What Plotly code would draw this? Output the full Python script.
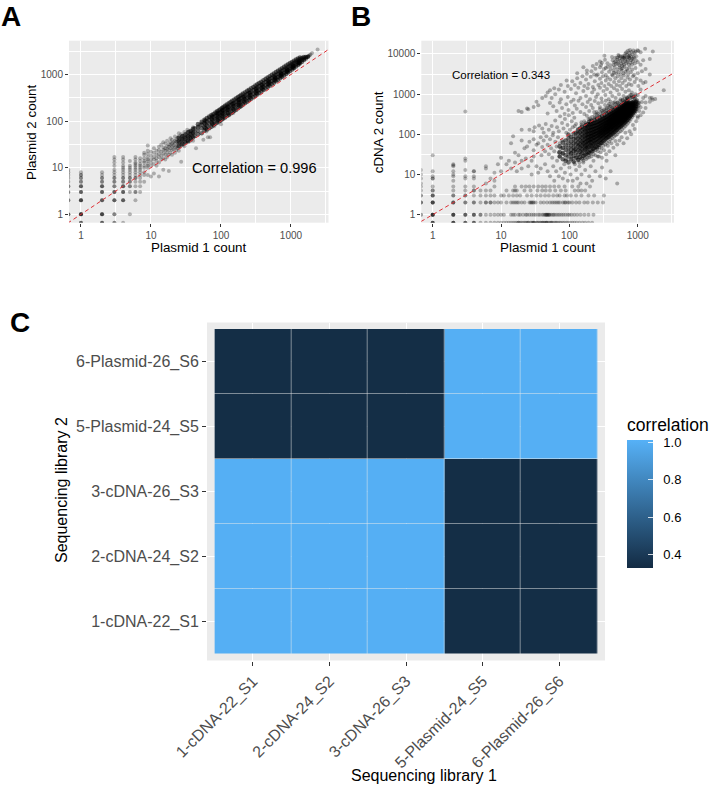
import plotly.graph_objects as go

# ---------- Panel A: counts ----------
a_low = [
 (0.66,[1,1,1,2,2,3,3,4,4,5,6,7,8,9]),
 (1,[0.66,0.66,0.66,1,1,1,1,1,2,2,2,2,3,3,3,4,4,4,5,5,6,6,7,7,8]),
 (2,[0.66,0.66,0.66,1,1,1,1,2,2,2,3,3,3,4,4,4,5,5,6,6,7,8]),
 (3,[0.66,0.66,1,1,2,2,2,3,3,3,4,4,5,5,6,6,7,8,9,11,13,15,17]),
 (4,[0.66,2,2,2,3,3,3,4,4,4,5,5,6,6,7,8,9,10,11,13,15,17]),
 (5,[1,3,4,4,5,5,6,6,7,8,9,10,11,14]),
 (6,[2,3,3,4,5,6,6,7,8,9,10,11,12,13,15,17]),
 (7,[3,4,5,6,7,8,9,10,11,12,14,16]),
 (8,[5,7,8,10,11,13,14,16,19,21]),
 (9,[7,10,11,12,14,15,17,20,23,30]),
]
a_mid = [
 (10,6.5),(10,11),(10,13),(10,15),(10,18),(10,22),(11,7.5),(11,12),(11,15),(11,17),(11,21),(11,26),
 (12,11),(12,14),(12,16),(12,19),(12,23),(13,6.5),(13,13),(13,17),(13,20),(13,24),(13,28),(14,15),(14,18),(14,22),(14,31),
 (15,9),(15,16),(15,20),(15,24),(15,27),(15,35),(16,15),(16,19),(16,23),(16,26),(16,33),(17,17),(17,21),(17,25),(17,29),(17,38),
 (18,8.5),(18,19),(18,24),(18,28),(18,32),(19,21),(19,26),(19,31),(19,36),(19,43),(20,19),(20,24),(20,29),(20,33),(20,40),
 (21,25),(21,30),(21,35),(22,21),(22,27),(22,33),(22,38),(22,47),(23,24),(23,29),(23,36),(23,41),(24,26),(24,31),(24,37),(24,44),
 (25,23),(25,33),(25,39),(25,47),(25,55),(26,28),(26,35),(26,41),(27,13.5),(27,31),(27,38),(27,45),(27,52),(28,33),(28,40),(28,48),
 (29,31),(29,37),(29,44),(30,29),(30,41),(30,49),(30,58),(31,36),(31,45),(32,34),(32,42),(32,51),(33,38),(33,47),(33,56),(33,65),
 (34,35),(34,44),(35,40),(35,49),(35,60),(36,37),(36,46),(36,53),(37,43),(37,58),(38,40),(38,50),(38,62),(39,47),(39,55),
 (40,38),(40,74),(44,26),(47,78),(50,84),(53,92),(56,40),(58,100),(60,110),(62,60),(65,45),(67,120),(70,45),(75,130),(80,78),(85,148),
 (100,86),(110,190),(130,132),(150,150),(120,210),
 (1700,2350),(1760,2420),(1800,2500),(1850,2580),(1900,2700),(2000,2900),(2400,3450),
]
a_core = [
 (25,[29,36,44]),(28,[32,40,48]),(31,[35,43,52]),(34,[38,47,58]),(37,[42,52,62]),(40,[45,56,68]),
 (42,[48,58,70]),(47,[52,62,74,86]),(53,[55,70,84,96]),(58,[62,74,90,106]),(63,[66,80,98,116]),(68,[70,88,106,125]),
 (73,[76,94,114,134]),(78,[82,100,122,142]),(83,[88,108,130,152]),(88,[92,114,138,162]),(93,[98,120,146,170]),
 (98,[102,128,154,180]),(103,[108,134,162,190]),(108,[114,142,170,200]),(114,[120,150,182,212]),(121,[128,160,192,226]),
 (129,[136,170,204,240]),(137,[146,180,218,255]),(145,[154,192,232,272]),(155,[166,204,248,290]),(165,[176,218,262,308]),
 (175,[188,230,280,328]),(185,[200,244,296,346]),(195,[212,258,312,365]),(207,[226,274,332,388]),(222,[244,294,356,416]),
 (237,[262,314,380,444]),(252,[280,336,404,472]),(270,[302,360,432,505]),(290,[326,386,466,540]),(310,[350,414,498,578]),
 (330,[374,442,530,615]),(352,[400,472,566,656]),(377,[430,506,606,700]),(405,[464,544,650,750]),(435,[500,586,698,805]),
 (465,[536,628,746,860]),(497,[576,672,798,920]),(532,[620,720,852,985]),(570,[666,772,912,1050]),(610,[716,826,975,1125]),
 (652,[768,886,1040,1200]),(697,[826,948,1112,1280]),(745,[888,1016,1190,1365]),(797,[956,1090,1272,1455]),
 (852,[1028,1168,1360,1550]),(910,[1105,1250,1450,1650]),(970,[1185,1340,1545,1750]),(1035,[1275,1440,1650,1860]),
 (1105,[1370,1545,1760,1970]),(1180,[1480,1660,1880,2080]),(1260,[1600,1790,2000,2200]),(1345,[1735,1920,2130,2300]),
 (1435,[1880,2060,2260]),(1530,[2040,2200,2380]),(1630,[2210,2380]),(1740,[2410]),
 (60,[70,84,100]),(75,[88,106,125]),(90,[106,126,150]),(105,[126,148,172]),(125,[150,176,200]),(150,[180,210,240]),
 (180,[218,252,285]),(215,[262,300,335]),(260,[320,364,405]),(320,[398,448,495]),(390,[490,545,600]),(480,[610,670,730]),
 (590,[755,820,885]),(720,[925,998,1070]),(880,[1140,1215,1295]),(1070,[1400,1480,1560]),(1300,[1720,1800,1880]),
]

# ---------- Panel B ----------
b_low = [
 (0.67,[1,1,2,2,2,3,3,4,5,6,8,10,13]),
 (1,[0.63,0.63,0.63,0.63,1,1,1,1,1,2,2,2,2,3,3,3,4,4,5,8,8,9,12,30]),
 (2,[0.63,0.63,0.63,0.63,1,1,1,1,2,2,2,3,3,4,5,7,9,10,12,16,17,18]),
 (3,[0.63,0.63,0.63,1,1,1,2,2,3,3,4,5,8,9,13,22,25,370]),
 (4,[0.63,0.63,0.63,1,1,1,2,2,3,4,4,5,8,9,12,12]),
 (5,[0.63,1,1,2,3,4]),(6,[0.63,1,2,2,3,4,6,14,16]),(7,[0.63,1,2,2,3,4,8]),
 (8,[0.63,1,2,3,5,7,11]),
]
b_row_0 = [9,10,11,12,13,14,15,16,17,18,18,19,20,21,22,23,24,25,25,27,28,29,30,30,31,33,34,35,37,38,40,40,42,43,45,46,46,48,50,52,54,55,57,60,63,65,68,72,75,80,84,90,95,102,110,118,128,140,155,170,190,215]
b_row_1 = [9,10,11,14,15,16,18,19,21,23,24,26,28,30,32,35,37,40,42,44,45,46,47,48,50,50,52,55,58,60,64,68,72,77,82,88,95,100,108,118,130,145,165,190,225]
b_row_2 = [9,10,12,14,15,16,17,18,20,22,26,27,28,29,30,32,38,42,47,52,56,60,64,68,72,80,85,88,95,100,110,125,140,165,185,220,260,310]
b_row_3 = [10,11,13,15,17,19,24,28,33,38,44,50,58,66,72,85,92,105,125,150,190,230,320]
b_row_4 = [12,15,16,17,22,27,34,40,45,52,62,75,88,120,135,150,170]
b_row_5 = [16,20,23,26,30,35,40,45,52,60,70,85,110,135,200]
b_upper = [
 (600,8200),(640,9000),(680,11000),(700,9500),(720,12000),(750,10500),(770,12500),(790,8800),(810,11200),(840,9800),(860,12200),(900,10500),(930,11500),(990,12400),(1020,11800),(1100,11000),(1280,13500),(1660,11500),(560,8600),(520,9400),(500,8100),(660,10200),(730,8600),(760,9100),(880,8400),(950,8800),
 (325,9000),(280,6500),(250,5600),(220,5000),(160,4700),(130,3300),(180,3900),(91,2200),(75,1700),(52,1250),(60,1400),(40,800),(24,440),(30,480),(33,650),(18,380),(20,360),
 (400,5200),(430,7000),(450,6100),(470,8000),(480,5600),(500,7200),(520,6400),(540,5200),(540,7800),(560,6800),(575,5800),(590,7300),(610,6200),(620,7900),(630,5400),(650,6700),(660,7500),(680,5900),(690,8200),(700,6400),(720,7100),(740,5500),(760,7700),(780,6000),(800,7000),(820,5400),(850,6500),(870,7800),(900,5800),(950,7000),(1000,6200),(1100,5400),(1200,7000),(1500,7500),(360,5900),(330,7200),(300,6000),(290,5300),(420,8400),(445,5300),(510,5700),(590,5100),(640,8300),(530,8900),(470,6500),(600,8800),(750,8200),(830,7600),
 (180,3200),(210,3700),(240,4300),(260,3100),(280,4700),(300,3500),(320,4200),(340,3000),(360,4800),(380,3600),(400,4300),(420,3100),(440,3900),(460,4700),(480,3300),(500,4100),(520,3500),(540,4600),(560,3100),(580,3800),(600,4400),(620,3300),(640,4900),(660,3600),(690,4200),(720,3100),(750,4600),(790,3500),(830,4100),(880,3000),(930,4500),(1000,3300),(1150,3700),(1300,4200),(1500,3100),(230,3100),(340,4500),(450,3400),(570,4200),(710,3800),
 (95,1600),(110,2100),(120,1700),(130,2500),(145,1900),(155,2800),(165,1600),(175,2300),(190,1800),(205,2700),(220,1500),(235,2100),(250,2900),(265,1700),(280,2400),(295,1900),(310,2800),(325,1600),(340,2200),(360,2600),(375,1800),(395,2300),(410,1600),(430,2900),(450,2000),(470,2500),(490,1700),(510,2800),(530,2100),(550,1600),(575,2500),(600,1900),(625,2900),(650,2200),(680,1600),(710,2600),(740,1800),(770,2300),(810,1700),(850,2800),(900,2000),(960,2400),(1020,1600),(1100,2200),(1200,1900),(1300,2000),
 (45,900),(48,1100),(55,800),(62,1000),(70,1300),(75,750),(85,1150),(95,850),(105,1350),(115,720),(125,1050),(135,1450),(145,800),(160,1200),(175,900),(185,1400),(200,750),(215,1100),(230,1300),(245,850),(260,1000),(280,1450),(295,780),(315,1200),(335,950),(355,1350),(375,750),(400,1100),(425,900),(450,1400),(475,800),(500,1250),(530,1000),(560,750),(590,1350),(620,900),(660,1150),(700,800),(740,1250),(780,950),(820,1100),(870,850),(920,1000),(1000,950),(1100,1300),(1200,800),(1300,900),(1500,800),(1650,720),(1800,760),(2400,1250),
]
b_middle = [
 (25,420),(35,530),(48,330),(52,600),(58,500),(65,380),(72,620),(78,450),(85,320),(90,560),(97,400),(105,650),(112,340),(120,520),(128,430),(136,680),(145,360),(155,560),(165,320),(175,480),(185,640),(195,380),(208,540),(220,450),(235,670),(250,360),(265,590),(280,470),(300,640),(320,420),(340,680),(370,520),(400,650),(440,600),
 (900,700),(1000,480),(1050,600),(1150,640),(1200,350),(1300,450),(1300,620),(1500,650),(1600,800),(1100,300),(1000,260),
 (20,130),(26,130),(30,120),(31,150),(36,165),(40,140),(42,110),(45,180),(50,130),(55,160),(58,110),(62,220),(66,150),(70,120),(73,280),(78,190),(82,140),(86,240),(90,110),(94,170),(98,300),(102,130),(108,210),(112,150),(118,260),(125,180),(132,120),
 (14,60),(15,90),(16,35),(18,30),(20,70),(22,45),(24,50),(26,65),(30,40),(30,75),(33,55),(35,60),(38,85),(40,48),(42,70),(44,38),(46,90),(48,55),(50,32),(52,75),(54,45),(57,95),(60,38),(62,65),(65,50),(68,85),(70,35),(72,60),(75,45),(78,70),(80,33),
 (9,18),(10,12),(10,26),(12,18),(13,22),(14,14),(16,20),(17,12),(20,22),(20,14),(23,25),(25,16),(28,22),(28,10),(30,28),(33,16),(35,11),(38,14),(39,30),(44,18),(48,12),(52,9),(56,26),(58,16),(60,7),(64,12),(66,22),(70,9),(72,28),(75,14),(80,8),(84,18),(86,11),(90,24),(95,7),(100,15),(104,10),(108,26),(112,7),(118,20),(125,13),(130,8),(136,24),(140,16),(145,6),(150,10),(160,20),(170,13),(178,6),(185,26),(195,9),(205,16),(215,7),(225,22),(240,12),(260,28),(280,9),(300,15),(340,8),(350,22),(400,12),(470,30),(500,6),
 (105,34),(118,42),(128,27),(135,55),(148,32),(158,62),(168,26),(176,48),(190,30),(198,70),(210,28),(225,38),(240,30),(255,44),(270,28),(285,36),(300,26),(320,40),(345,32),(365,52),(385,38),(410,60),(440,46),(470,68),(500,56),(540,70),(580,85),(620,60),(660,110),(700,80),(760,120),(800,100),(850,170),(900,135),(950,210),(1000,280),(1050,380),(1100,470),(950,640),(1000,600),
 (120,160),(150,200),(200,250),(250,310),(300,380),(350,450),(400,500),(500,620),(600,700),(700,780),(800,800),(180,290),(230,360),(280,420),(330,540),(380,580),(460,640),
 (150,175),(165,210),(172,190),(190,240),(205,225),(215,270),(235,300),(240,260),(260,330),(270,290),(285,350),(305,340),(320,390),(335,370),(355,440),(370,400),(390,480),(410,430),(425,530),(445,470),(470,570),(490,520),(510,620),(530,560),(555,680),(580,610),(600,720),(630,650),(650,780),(675,700),(700,840),(725,730),(750,890),(780,800),(810,950),(840,840),(870,900),(905,790),(930,880),(960,730),(980,690),
 (120,18),(140,20),(160,22),(175,24),(195,27),(205,33),(225,32),(240,40),(260,38),(275,46),(295,45),(315,52),(335,56),(355,62),(380,66),(400,75),(425,80),(450,88),(475,95),(500,100),(525,112),(560,120),(590,130),(625,145),(660,160),(690,175),(725,195),(760,215),(790,240),(830,270),(870,300),(910,340),(950,375),(985,430),
 (960,500),(990,560),(1010,620),(1030,520),
]
b_core = [
 (72,[28,36,50]),(80,[24,34,46,62]),(88,[22,30,41,53,70]),(97,[20,28,36,46,60,78,98]),
 (106,[24,33,41,52,66,86]),(115,[21,29,38,47,60,77,103]),(124,[26,35,43,55,68,85,108]),(134,[23,31,40,50,63,80,104,132]),
 (143,[27,37,46,57,71,88,111,140]),(152,[25,34,43,53,66,82,100,125,155]),(161,[29,39,49,60,73,91,113,138]),(170,[31,41,51,63,77,94,117,143,170]),
 (178,[33,44,55,66,80,96,115,140,168]),(186,[36,46,58,70,84,101,122,148,180]),(195,[35,48,60,72,86,100,120,145,175,205]),
 (204,[40,52,64,77,91,108,128,153,183]),(213,[38,50,62,75,90,105,125,150,180,218]),(222,[44,56,69,82,96,113,133,158,190]),(232,[45,58,71,84,98,115,135,160,192,232]),
 (243,[49,61,74,88,103,120,141,166,198]),(254,[48,63,77,91,106,123,144,170,203,248]),(265,[54,67,82,96,111,129,150,176,210]),(277,[55,70,86,100,115,133,154,182,214,265]),
 (288,[61,76,91,106,121,140,162,190,225]),(300,[62,79,95,110,126,146,168,196,233,285]),(312,[67,84,100,116,133,152,175,204,242]),(325,[71,90,106,122,140,160,185,215,255,305]),
 (338,[78,95,112,128,146,166,191,222,262]),(350,[80,98,115,132,150,172,198,230,270,335]),(363,[84,103,121,139,158,180,206,238,280]),(377,[87,106,125,145,165,188,215,248,292,355]),
 (390,[94,114,133,153,174,198,227,260,305]),(405,[96,117,137,157,180,204,235,268,315,380]),(420,[103,126,147,168,192,218,248,285,330]),(435,[106,130,152,174,198,225,256,294,340,405]),
 (450,[114,138,160,183,209,236,268,308,355]),(467,[118,143,166,190,217,245,278,318,367,435]),(484,[127,152,177,201,228,258,293,334,384]),(500,[132,158,183,208,236,266,302,345,396,465]),
 (518,[141,168,194,220,247,279,316,361,412]),(536,[148,176,202,229,257,291,328,375,428,495]),(555,[155,184,212,241,271,304,343,390,444]),(575,[162,193,222,252,283,318,358,407,462,535]),
 (595,[172,204,234,264,296,332,373,423,482]),(615,[182,215,245,276,309,347,390,441,502,575]),(637,[194,228,258,290,326,365,410,463,522]),(658,[204,240,270,304,342,383,428,484,545,618]),
 (680,[216,253,287,323,362,405,453,506,570]),(705,[228,266,302,340,381,427,478,534,600,675]),(730,[248,287,326,368,412,460,513,577]),(755,[263,304,345,390,436,487,542,608]),
 (780,[285,328,372,420,468,522,582]),(805,[303,349,395,446,497,552,618]),(835,[330,378,428,484,540,606]),(865,[354,404,455,516,577,646]),
 (900,[388,450,515,590]),(935,[424,495,566,646]),
]

# ---------- Panel C ----------
lib_x = ["1-cDNA-22_S1", "2-cDNA-24_S2", "3-cDNA-26_S3", "5-Plasmid-24_S5", "6-Plasmid-26_S6"]
lib_y = ["1-cDNA-22_S1", "2-cDNA-24_S2", "3-cDNA-26_S3", "5-Plasmid-24_S5", "6-Plasmid-26_S6"]
corr = [
 [1.0, 1.0, 1.0, 0.343, 0.343],
 [1.0, 1.0, 1.0, 0.343, 0.343],
 [1.0, 1.0, 1.0, 0.343, 0.343],
 [0.343, 0.343, 0.343, 1.0, 1.0],
 [0.343, 0.343, 0.343, 1.0, 1.0],
]
log_ticks_a = [1, 10, 100, 1000]
log_ticks_b = [1, 10, 100, 1000, 10000]
mid_ticks = [0.3162, 3.162, 31.62, 316.2, 3162]
diag = [0.3, 30000]

W, H = 710, 787
FONT = "Liberation Sans"

def expand(cols):
    xs, ys = [], []
    for x, vals in cols:
        for v in vals:
            xs.append(x); ys.append(v)
    return xs, ys

fig = go.Figure()
def scatter(xs, ys, xa, ya, size, op):
    fig.add_trace(go.Scatter(x=xs, y=ys, xaxis=xa, yaxis=ya, mode="markers", showlegend=False,
                             marker=dict(color="black", size=size, opacity=op, line=dict(width=0))))

scatter(*expand(a_low), "x", "y", 4.0, 0.27)
scatter([p[0] for p in a_mid], [p[1] for p in a_mid], "x", "y", 4.0, 0.27)
scatter(*expand(a_core), "x", "y", 4.6, 0.55)
fig.add_trace(go.Scatter(x=diag, y=diag, xaxis="x", yaxis="y", mode="lines", showlegend=False,
                         line=dict(color="#DC2F35", width=1, dash="4px,3px")))
scatter(*expand(b_low), "x2", "y2", 4.0, 0.27)
for yval, row in [(0.63, b_row_0), (1, b_row_1), (2, b_row_2), (3, b_row_3), (4, b_row_4), (5, b_row_5)]:
    scatter(row, [yval] * len(row), "x2", "y2", 4.0, 0.27)
scatter([p[0] for p in b_upper], [p[1] for p in b_upper], "x2", "y2", 4.0, 0.3)
scatter([p[0] for p in b_middle], [p[1] for p in b_middle], "x2", "y2", 4.0, 0.3)
scatter(*expand(b_core), "x2", "y2", 4.6, 0.55)
fig.add_trace(go.Scatter(x=diag, y=diag, xaxis="x2", yaxis="y2", mode="lines", showlegend=False,
                         line=dict(color="#DC2F35", width=1, dash="4px,3px")))

fig.add_trace(go.Heatmap(x=lib_x, y=lib_y, z=corr, xaxis="x3", yaxis="y3", xgap=0.5, ygap=0.5,
    zmin=0.33, zmax=1.012, colorscale=[[0, "#132B43"], [1, "#56B1F7"]],
    colorbar=dict(x=627/W, xanchor="left", xpad=0, ypad=0, y=1-415/H, yanchor="top",
                  lenmode="pixels", len=153, thicknessmode="pixels", thickness=26, outlinewidth=0,
                  tickvals=[0.4, 0.6, 0.8, 1.0], ticktext=["\u00a0\u00a00.4", "\u00a0\u00a00.6", "\u00a0\u00a00.8", "\u00a0\u00a01.0"],
                  ticks="inside", ticklen=5, tickcolor="rgba(255,255,255,0.8)", tickwidth=0.6,
                  tickfont=dict(family=FONT, size=13, color="black"),
                  title=dict(text="correlation", side="top", font=dict(family=FONT, size=17.5, color="black")))))

def log_axis(dom, rng, ticks, anchor):
    return dict(type="log", domain=dom, range=rng, anchor=anchor, tickmode="array", tickvals=ticks,
                ticktext=[str(t) for t in ticks], ticks="outside", ticklen=3, tickwidth=0.7, tickcolor="#333333",
                tickfont=dict(family=FONT, size=10, color="#4D4D4D"),
                showgrid=True, gridcolor="white", gridwidth=1, zeroline=False, showline=False, automargin=False,
                minor=dict(tickmode="array", tickvals=mid_ticks, ticks="", showgrid=True, gridcolor="white", gridwidth=0.5))

def cat_axis(dom, angle, anchor):
    return dict(domain=dom, range=[-0.6, 4.6], anchor=anchor, type="category", automargin=False,
                ticks="outside", ticklen=4, tickwidth=1, tickcolor="#333333", tickangle=angle,
                tickfont=dict(family=FONT, size=16, color="#4D4D4D"),
                showgrid=True, gridcolor="white", gridwidth=1, zeroline=False, showline=False)

def txt(text, px, py, size, angle=0, color="black"):
    return dict(text=text, x=px/W, y=1-py/H, xref="paper", yref="paper", showarrow=False, textangle=angle,
                xanchor="center", yanchor="middle", font=dict(family=FONT, size=size, color=color))

def letter(text, px, py):
    return dict(text="<b>%s</b>" % text, x=px/W, y=1-py/H, xref="paper", yref="paper", xanchor="left", yanchor="top",
                showarrow=False, borderpad=0, font=dict(family=FONT, size=28, color="black"))

fig.update_layout(
    width=W, height=H, margin=dict(l=0, r=0, t=0, b=0), paper_bgcolor="white", plot_bgcolor="#EBEBEB",
    font=dict(family=FONT),
    xaxis=log_axis([69/W, 328.5/W], [-0.171, 3.536], log_ticks_a, "y"),
    yaxis=log_axis([1-222.7/H, 1-40.7/H], [-0.18, 3.725], log_ticks_a, "x"),
    xaxis2=log_axis([421.3/W, 674/W], [-0.167, 3.53], log_ticks_a, "y2"),
    yaxis2=log_axis([1-222.7/H, 1-40.7/H], [-0.2, 4.33], log_ticks_b, "x2"),
    xaxis3=cat_axis([207/W, 605/W], -45, "y3"),
    yaxis3=cat_axis([1-660.5/H, 1-322.5/H], 0, "x3"),
    annotations=[
        dict(text="Correlation = 0.996", x=2.478, y=1, xref="x", yref="y", showarrow=False,
             font=dict(family=FONT, size=14.6, color="black")),
        dict(text="Correlation = 0.343", x=1, y=3.475, xref="x2", yref="y2", showarrow=False,
             font=dict(family=FONT, size=11.5, color="black")),
        txt("Plasmid 1 count", 199, 247.5, 13.4),
        txt("Plasmid 2 count", 31, 132, 13.4, -90),
        txt("Plasmid 1 count", 547.7, 247.5, 13.4),
        txt("cDNA 2 count", 378.3, 132, 13.4, -90),
        txt("Sequencing library 1", 424, 775, 16),
        txt("Sequencing library 2", 62, 490, 16, -90),
        letter("A", 0, 0), letter("B", 350, 0), letter("C", 9, 306),
    ],
)
fig.write_html("out.html", config={"displayModeBar": False},
               post_script="document.body.style.margin='0';document.body.style.overflow='hidden';")
